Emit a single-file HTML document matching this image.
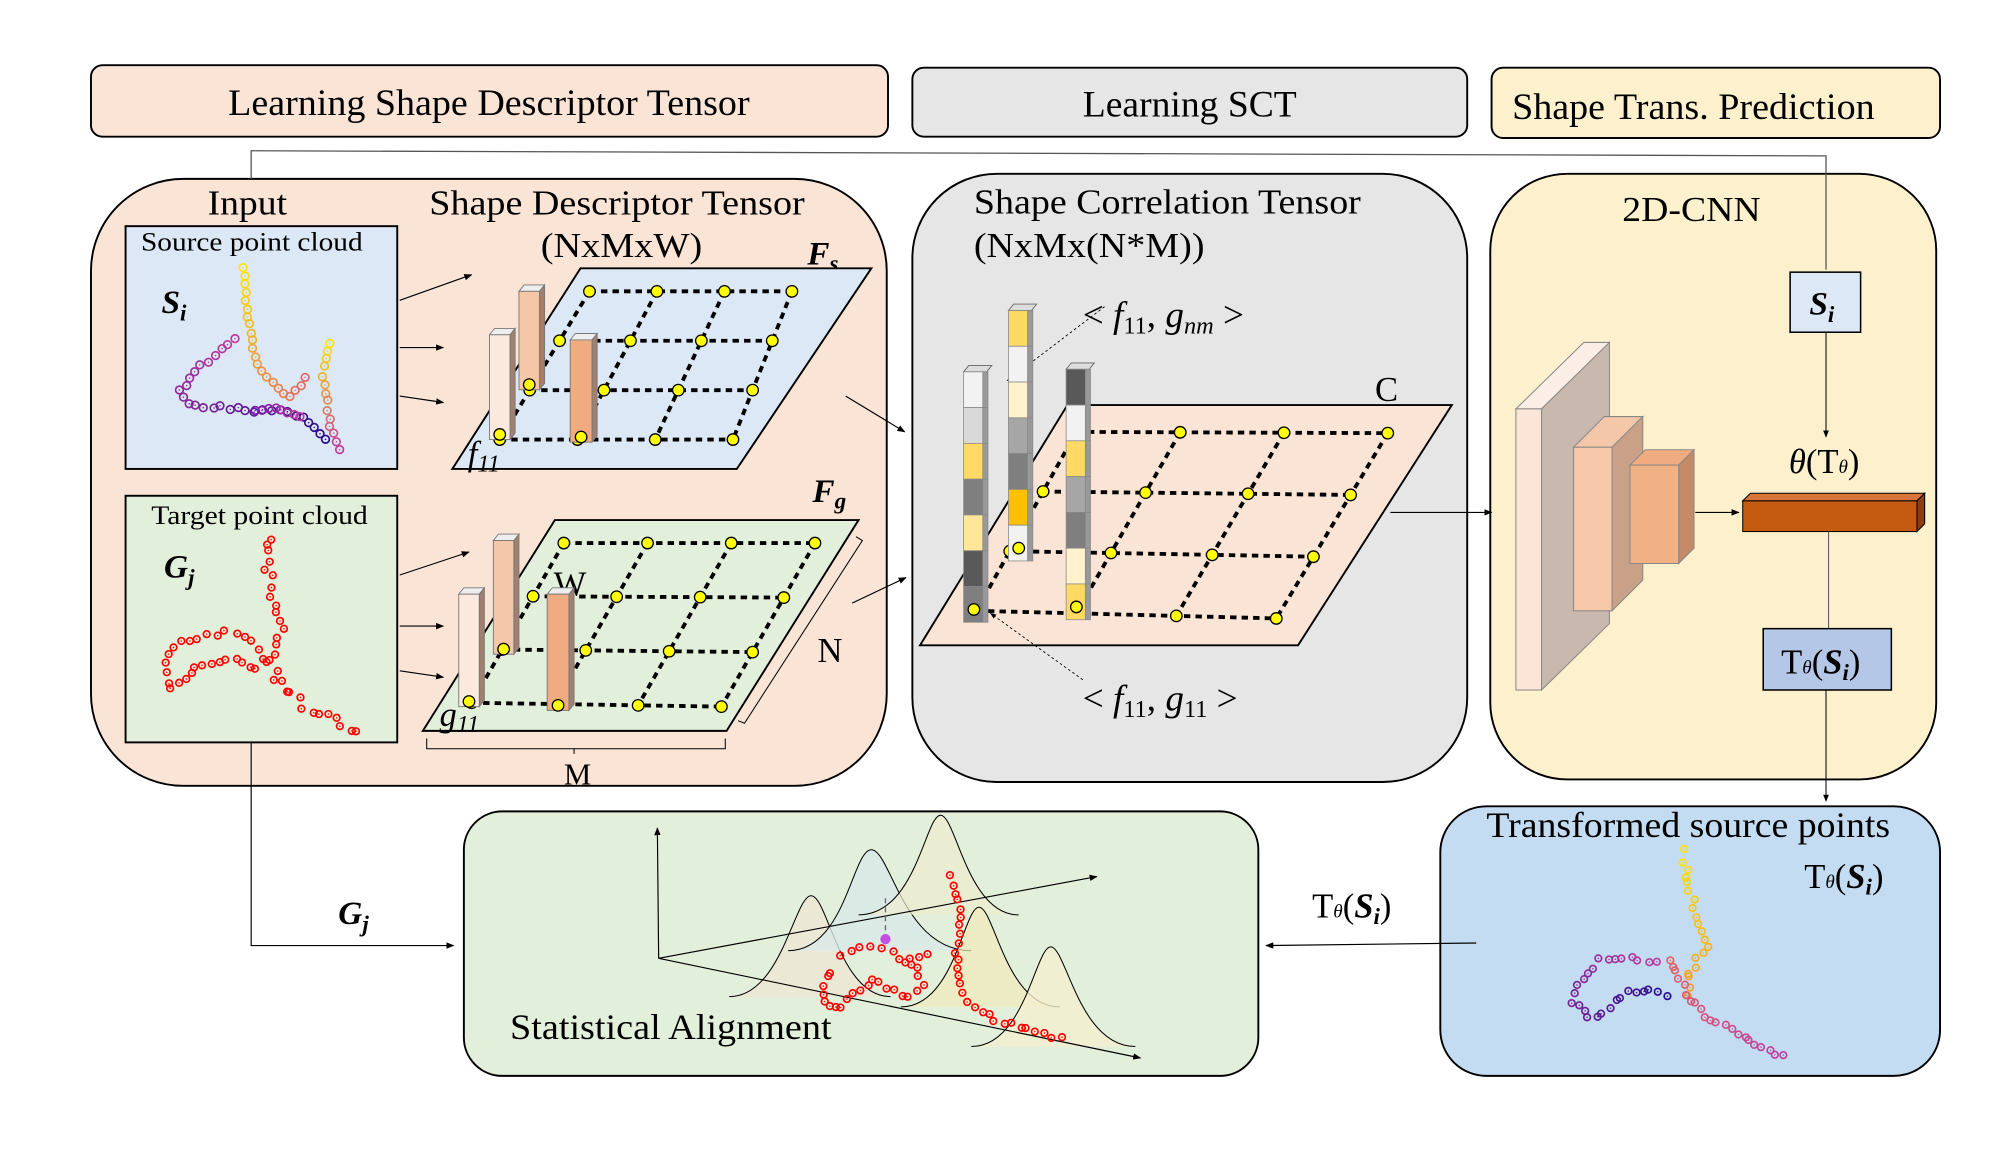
<!DOCTYPE html>
<html><head><meta charset="utf-8"><style>
html,body{margin:0;padding:0;background:#fff}
svg{display:block;font-family:"Liberation Serif",serif}
</style></head><body>
<svg id="s" width="1999" height="1150" viewBox="0 0 1560 900" preserveAspectRatio="none" xmlns="http://www.w3.org/2000/svg">
<defs>
<marker id="a" viewBox="0 0 10 10" refX="9" refY="5" markerWidth="7" markerHeight="7" orient="auto"><path d="M0,1 L10,5 L0,9 z" fill="#000"/></marker>
</defs>
<!-- headers -->
<rect x="71" y="51" width="622" height="56" rx="9" fill="#fae4d6" stroke="#000" stroke-width="1.5"/>
<text x="178" y="90" font-size="29" textLength="407" lengthAdjust="spacingAndGlyphs">Learning Shape Descriptor Tensor</text>
<rect x="712" y="53" width="433" height="54" rx="9" fill="#e6e6e6" stroke="#000" stroke-width="1.5"/>
<text x="845" y="91" font-size="29" textLength="167" lengthAdjust="spacingAndGlyphs">Learning SCT</text>
<rect x="1164" y="53" width="350" height="55" rx="9" fill="#fdf0cc" stroke="#000" stroke-width="1.5"/>
<text x="1180" y="93" font-size="29" textLength="283" lengthAdjust="spacingAndGlyphs">Shape Trans. Prediction</text>

<!-- big panels -->
<rect x="71" y="140" width="621" height="475" rx="72" fill="#fae4d6" stroke="#000" stroke-width="1.5"/>
<rect x="712" y="136" width="433" height="476" rx="66" fill="#e6e6e6" stroke="#000" stroke-width="1.5"/>
<rect x="1163" y="136" width="348" height="474" rx="60" fill="#fdf0cc" stroke="#000" stroke-width="1.5"/>
<rect x="362" y="635" width="620" height="207" rx="30" fill="#e2efda" stroke="#000" stroke-width="1.5"/>
<rect x="1124" y="631" width="390" height="211" rx="36" fill="#c4dcf2" stroke="#000" stroke-width="1.5"/>

<!-- top connector -->
<polyline points="196,140 196,118 1425,122 1425,211" fill="none" stroke="#555" stroke-width="1"/>

<text x="162" y="168" font-size="27" textLength="62" lengthAdjust="spacingAndGlyphs">Input</text>
<rect x="98" y="177" width="212" height="190" fill="#dce8f5" stroke="#000" stroke-width="1.5"/>
<text x="110" y="196" font-size="21" textLength="173" lengthAdjust="spacingAndGlyphs">Source point cloud</text>
<text x="126" y="245" font-size="26" font-weight="bold" font-style="italic">S<tspan font-size="18" dy="6">i</tspan></text>
<rect x="98" y="388" width="212" height="193" fill="#e2efda" stroke="#000" stroke-width="1.5"/>
<text x="118" y="410" font-size="21" textLength="169" lengthAdjust="spacingAndGlyphs">Target point cloud</text>
<text x="128" y="452" font-size="26" font-weight="bold" font-style="italic">G<tspan font-size="18" dy="6">j</tspan></text>

<text x="335" y="168" font-size="27" textLength="293" lengthAdjust="spacingAndGlyphs">Shape Descriptor Tensor</text>
<text x="422" y="201" font-size="27" textLength="126" lengthAdjust="spacingAndGlyphs">(NxMxW)</text>
<text x="630" y="207" font-size="26" font-weight="bold" font-style="italic">F<tspan font-size="18" dy="5">s</tspan></text>
<text x="634" y="393" font-size="26" font-weight="bold" font-style="italic">F<tspan font-size="18" dy="5">g</tspan></text>

<polygon points="453,210 680,210 575,367 353,367" fill="#dce8f5" stroke="#000" stroke-width="1.5"/>
<polygon points="433,407 670,407 567,572 330,572" fill="#e2efda" stroke="#000" stroke-width="1.5"/>
<polygon points="833,317 1133,317 1013,505 718,505" fill="#fae4d6" stroke="#000" stroke-width="1.5"/>
<g id="grids"></g>

<text x="365" y="364" font-size="27" font-style="italic">f<tspan font-size="19" dy="5">11</tspan></text>
<text x="343" y="568" font-size="27" font-style="italic">g<tspan font-size="19" dy="5">11</tspan></text>
<text x="432" y="466" font-size="27">W</text>
<text x="638" y="518" font-size="27">N</text>
<text x="440" y="614" font-size="24">M</text>
<path d="M333,578 v8 h115 v4 M448,586 h118 v-8" fill="none" stroke="#000" stroke-width="0.8"/>
<path d="M668,420 l5,3 l-92,143 l-5,-2" fill="none" stroke="#000" stroke-width="0.8"/>

<text x="760" y="167" font-size="27" textLength="302" lengthAdjust="spacingAndGlyphs">Shape Correlation Tensor</text>
<text x="760" y="201" font-size="27" textLength="180" lengthAdjust="spacingAndGlyphs">(NxMx(N*M))</text>
<text x="845" y="256" font-size="29">&lt; <tspan font-style="italic">f</tspan><tspan font-size="19" dy="5">11</tspan><tspan dy="-5">, </tspan><tspan font-style="italic">g</tspan><tspan font-size="19" dy="5" font-style="italic">nm</tspan><tspan dy="-5"> &gt;</tspan></text>
<text x="845" y="556" font-size="29">&lt; <tspan font-style="italic">f</tspan><tspan font-size="19" dy="5">11</tspan><tspan dy="-5">, </tspan><tspan font-style="italic">g</tspan><tspan font-size="19" dy="5">11</tspan><tspan dy="-5"> &gt;</tspan></text>
<text x="1073" y="314" font-size="27">C</text>
<line x1="862" y1="240" x2="786" y2="298" stroke="#000" stroke-width="0.7" stroke-dasharray="2,2" marker-end="url(#a)"/>
<line x1="845" y1="532" x2="773" y2="480" stroke="#000" stroke-width="0.7" stroke-dasharray="2,2" marker-end="url(#a)"/>
<g id="bars"></g>

<text x="1266" y="173" font-size="27" textLength="108" lengthAdjust="spacingAndGlyphs">2D-CNN</text>
<!-- CNN blocks -->
<polygon points="1183,320 1236,268 1256,268 1203,320" fill="#fbeee6" stroke="#888" stroke-width="0.8"/>
<polygon points="1203,320 1256,268 1256,488 1203,540" fill="#c9b8ad" stroke="#888" stroke-width="0.8"/>
<rect x="1183" y="320" width="20" height="220" fill="#fbe5d6" stroke="#888" stroke-width="0.8"/>
<polygon points="1228,350 1252,326 1282,326 1258,350" fill="#f4c7a8" stroke="#888" stroke-width="0.8"/>
<polygon points="1258,350 1282,326 1282,454 1258,478" fill="#c9a088" stroke="#888" stroke-width="0.8"/>
<rect x="1228" y="350" width="30" height="128" fill="#f6c8a9" stroke="#888" stroke-width="0.8"/>
<polygon points="1272,364 1284,352 1322,352 1310,364" fill="#f0ab80" stroke="#888" stroke-width="0.8"/>
<polygon points="1310,364 1322,352 1322,429 1310,441" fill="#c48b66" stroke="#888" stroke-width="0.8"/>
<rect x="1272" y="364" width="38" height="77" fill="#f2b085" stroke="#888" stroke-width="0.8"/>

<rect x="1397" y="213" width="55" height="47" fill="#dce8f5" stroke="#000" stroke-width="1.2"/>
<text x="1412" y="246" font-size="26" font-weight="bold" font-style="italic">S<tspan font-size="18" dy="6">i</tspan></text>
<line x1="1425" y1="260" x2="1425" y2="342" stroke="#000" stroke-width="0.8" marker-end="url(#a)"/>
<text x="1396" y="370" font-size="27"><tspan font-style="italic">θ</tspan>(T<tspan font-size="15" font-style="italic">θ</tspan>)</text>
<polygon points="1360,392 1366,386 1502,386 1496,392" fill="#d8763a" stroke="#000" stroke-width="0.8"/>
<polygon points="1496,392 1502,386 1502,410 1496,416" fill="#8f3d0e" stroke="#000" stroke-width="0.8"/>
<rect x="1360" y="392" width="136" height="24" fill="#c55a11" stroke="#000" stroke-width="0.8"/>
<line x1="1427" y1="416" x2="1427" y2="492" stroke="#555" stroke-width="0.8"/>
<rect x="1376" y="492" width="100" height="48" fill="#b4c7e7" stroke="#000" stroke-width="1.2"/>
<text x="1390" y="527" font-size="27">T<tspan font-size="15" font-style="italic">θ</tspan>(<tspan font-weight="bold" font-style="italic">S</tspan><tspan font-size="18" dy="5" font-weight="bold" font-style="italic">i</tspan><tspan dy="-5">)</tspan></text>
<line x1="1425" y1="540" x2="1425" y2="627" stroke="#000" stroke-width="0.8" marker-end="url(#a)"/>

<!-- arrows -->
<g stroke="#000" stroke-width="0.9" marker-end="url(#a)">
<line x1="312" y1="235" x2="368" y2="215"/>
<line x1="312" y1="272" x2="346" y2="272"/>
<line x1="312" y1="310" x2="346" y2="315"/>
<line x1="312" y1="450" x2="366" y2="432"/>
<line x1="312" y1="490" x2="346" y2="490"/>
<line x1="312" y1="525" x2="346" y2="530"/>
<line x1="660" y1="310" x2="706" y2="338"/>
<line x1="665" y1="472" x2="707" y2="452"/>
<line x1="1085" y1="401" x2="1164" y2="401"/>
<line x1="1323" y1="401" x2="1357" y2="401"/>
<line x1="1152" y1="738" x2="988" y2="740"/>
</g>
<polyline points="196,581 196,740 354,740" fill="none" stroke="#000" stroke-width="0.9" marker-end="url(#a)"/>
<text x="264" y="723" font-size="26" font-weight="bold" font-style="italic">G<tspan font-size="18" dy="6">j</tspan></text>
<text x="1024" y="718" font-size="27">T<tspan font-size="15" font-style="italic">θ</tspan>(<tspan font-weight="bold" font-style="italic">S</tspan><tspan font-size="18" dy="5" font-weight="bold" font-style="italic">i</tspan><tspan dy="-5">)</tspan></text>

<!-- statistical alignment -->
<g stroke="#000" stroke-width="0.8" fill="none">
<path d="M569,780 C610,780 620,701 633,701 C646,701 655,780 695,780" fill="#ece8d6"/>
<path d="M615,744 C660,744 665,665 680,665 C695,665 705,744 758,744" fill="#dbe8e8" fill-opacity="0.8"/>
<path d="M670,716 C715,716 722,638 734,638 C746,638 755,716 795,716" fill="#f0ecd0" fill-opacity="0.7"/>
<path d="M703,788 C745,788 752,710 764,710 C776,710 785,788 827,788" fill="#f2eabb" fill-opacity="0.7"/>
<path d="M758,819 C800,819 808,741 820,741 C832,741 842,819 886,819" fill="#f5efcf" fill-opacity="0.8"/>
</g>
<line x1="514" y1="750" x2="513" y2="648" stroke="#000" stroke-width="0.9" marker-end="url(#a)"/>
<line x1="514" y1="750" x2="856" y2="686" stroke="#000" stroke-width="0.9" marker-end="url(#a)"/>
<line x1="514" y1="750" x2="890" y2="828" stroke="#000" stroke-width="0.9" marker-end="url(#a)"/>
<line x1="691" y1="703" x2="691" y2="732" stroke="#666" stroke-dasharray="4,3"/>
<circle cx="691" cy="735" r="4" fill="#c050e0"/>
<g id="pts"></g>
<text x="398" y="813" font-size="28" textLength="251" lengthAdjust="spacingAndGlyphs">Statistical Alignment</text>
<text x="1160" y="655" font-size="28" textLength="315" lengthAdjust="spacingAndGlyphs">Transformed source points</text>
<text x="1408" y="695" font-size="27">T<tspan font-size="15" font-style="italic">θ</tspan>(<tspan font-weight="bold" font-style="italic">S</tspan><tspan font-size="18" dy="5" font-weight="bold" font-style="italic">i</tspan><tspan dy="-5">)</tspan></text>
</svg>
<script>
var NS="http://www.w3.org/2000/svg";
function el(p,t,a){var e=document.createElementNS(NS,t);for(var k in a)e.setAttribute(k,a[k]);p.appendChild(e);return e;}
var G=document.getElementById("grids");
function grid(tl,tr,bl,br){
 function P(u,v){return [tl[0]+(tr[0]-tl[0])*u+(bl[0]-tl[0])*v+((br[0]-bl[0])-(tr[0]-tl[0]))*u*v, tl[1]+(tr[1]-tl[1])*u+(bl[1]-tl[1])*v+((br[1]-bl[1])-(tr[1]-tl[1]))*u*v];}
 var s={stroke:"#000","stroke-width":3,"stroke-dasharray":"5,4",fill:"none"};
 for(var i=0;i<4;i++){var a=P(0,i/3),b=P(1,i/3);var o=Object.assign({x1:a[0],y1:a[1],x2:b[0],y2:b[1]},s);el(G,"line",o);}
 for(var j=0;j<4;j++){var a=P(j/3,0),b=P(j/3,1);var o=Object.assign({x1:a[0],y1:a[1],x2:b[0],y2:b[1]},s);el(G,"line",o);}
 for(var i=0;i<4;i++)for(var j=0;j<4;j++){var p=P(j/3,i/3);el(G,"circle",{cx:p[0],cy:p[1],r:4.5,fill:"#ffff00",stroke:"#000","stroke-width":1});}
}
grid([460,228],[618,228],[390,344],[572,344]);
grid([440,425],[636,425],[368,550],[563,553]);
grid([840,338],[1083,339],[762,478],[996,484]);
var B=document.getElementById("bars");
function bar(x,y1,w,y2,c){el(B,"polygon",{points:(x)+","+y1+" "+(x+4)+","+(y1-5)+" "+(x+w+4)+","+(y1-5)+" "+(x+w)+","+y1,fill:"#eee",stroke:"#777","stroke-width":0.7});
 el(B,"polygon",{points:(x+w)+","+y1+" "+(x+w+4)+","+(y1-5)+" "+(x+w+4)+","+(y2-5)+" "+(x+w)+","+y2,fill:"#a08070",stroke:"#777","stroke-width":0.7});
 el(B,"rect",{x:x,y:y1,width:w,height:y2-y1,fill:c,stroke:"#777","stroke-width":0.7});
 el(B,"circle",{cx:x+w/2,cy:y2-4,r:4.5,fill:"#ff0",stroke:"#000"});}
bar(382,262,16,344,"#fbe9dd");bar(405,228,16,305,"#f4c7a8");bar(445,266,17,346,"#f0ab80");
bar(358,465,16,553,"#fbe9dd");bar(385,423,16,512,"#f4c7a8");bar(427,465,17,556,"#f0ab80");
function col(x,y,cs){var sh=28;
 el(B,"polygon",{points:x+","+y+" "+(x+4)+","+(y-5)+" "+(x+22)+","+(y-5)+" "+(x+18)+","+y,fill:"#ddd",stroke:"#666","stroke-width":0.7});
 for(var i=0;i<cs.length;i++){el(B,"rect",{x:x,y:y+i*sh,width:15,height:sh,fill:cs[i],stroke:"#888","stroke-width":0.6});el(B,"rect",{x:x+15,y:y+i*sh,width:4,height:sh,fill:"#999",stroke:"#888","stroke-width":0.6});}
 el(B,"circle",{cx:x+8,cy:y+cs.length*sh-10,r:4.5,fill:"#ff0",stroke:"#000"});}
col(752,291,["#f2f2f2","#d9d9d9","#ffd966","#7f7f7f","#ffe699","#595959","#7f7f7f"]);
col(787,243,["#ffd966","#f2f2f2","#fff2cc","#a6a6a6","#7f7f7f","#ffc000","#f2f2f2"]);
col(832,289,["#595959","#f2f2f2","#ffd966","#a6a6a6","#7f7f7f","#fff2cc","#ffd966"]);
var PT=document.getElementById("pts");
var seed=3;function rnd(){seed=(seed*9301+49297)%233280;return seed/233280-0.5;}
function lerpc(c1,c2,t){var a=[],i;for(i=0;i<3;i++)a.push(Math.round(c1[i]+(c2[i]-c1[i])*t));return "rgb("+a+")";}
function chain(pts,n,c1,c2,r,j){var L=[],tot=0;for(var i=1;i<pts.length;i++){var d=Math.hypot(pts[i][0]-pts[i-1][0],pts[i][1]-pts[i-1][1]);L.push(d);tot+=d;}
 for(var k=0;k<n;k++){var t=k/(n-1)*tot,i=0;while(i<L.length-1&&t>L[i]){t-=L[i];i++;}var f=Math.min(1,t/L[i]);
  var x=pts[i][0]+(pts[i+1][0]-pts[i][0])*f+rnd()*j,y=pts[i][1]+(pts[i+1][1]-pts[i][1])*f+rnd()*j;
  var c=lerpc(c1,c2,k/(n-1));el(PT,"circle",{cx:x,cy:y,r:r,fill:"none",stroke:c,"stroke-width":1.3});el(PT,"circle",{cx:x,cy:y,r:0.6,fill:c});}}
var Y=[255,230,0],O=[250,150,40],P=[225,100,100],M=[190,60,160],V=[120,20,170],D=[40,10,140],R=[255,0,0];
// source
chain([[190,210],[192,240],[196,265],[200,285],[212,298],[226,312],[238,296]],22,Y,P,3,2);
chain([[258,268],[252,290],[255,315],[258,335],[266,352]],14,Y,M,3,2);
chain([[182,265],[165,280],[150,292],[140,308],[148,318],[170,318],[200,322],[220,320],[240,330],[255,345]],30,M,D,3,3);
chain([[200,322],[215,320],[235,326]],8,V,M,3,2);
// target
chain([[210,420],[208,445],[214,470],[220,490],[212,510],[216,532],[240,555],[280,572]],30,R,R,2.6,6);
chain([[135,540],[128,520],[145,500],[175,495],[200,505],[210,520]],18,R,R,2.6,5);
chain([[140,535],[155,520],[180,515],[200,525]],12,R,R,2.6,4);
// SA red
chain([[743,686],[745,700],[749,714],[748,735],[746,758],[752,780],[770,795],[800,805],[828,812]],28,R,R,2.6,4);
chain([[657,748],[667,743],[680,742],[693,745],[710,752],[725,745]],10,R,R,2.6,4);
chain([[648,760],[640,775],[645,788],[655,790],[665,780],[680,766],[695,775],[710,780],[720,770],[715,758],[705,752]],24,R,R,2.6,4);
// transformed
chain([[1315,667],[1317,692],[1325,716],[1332,739],[1318,760],[1316,779]],20,Y,O,2.6,5);
chain([[1305,750],[1316,779],[1330,795],[1360,810],[1391,827]],22,P,M,2.6,4);
chain([[1292,752],[1268,750],[1248,752],[1235,765],[1228,784],[1240,798],[1255,790],[1268,776],[1285,775],[1300,779]],28,M,D,2.6,4);
</script>
</body></html>
